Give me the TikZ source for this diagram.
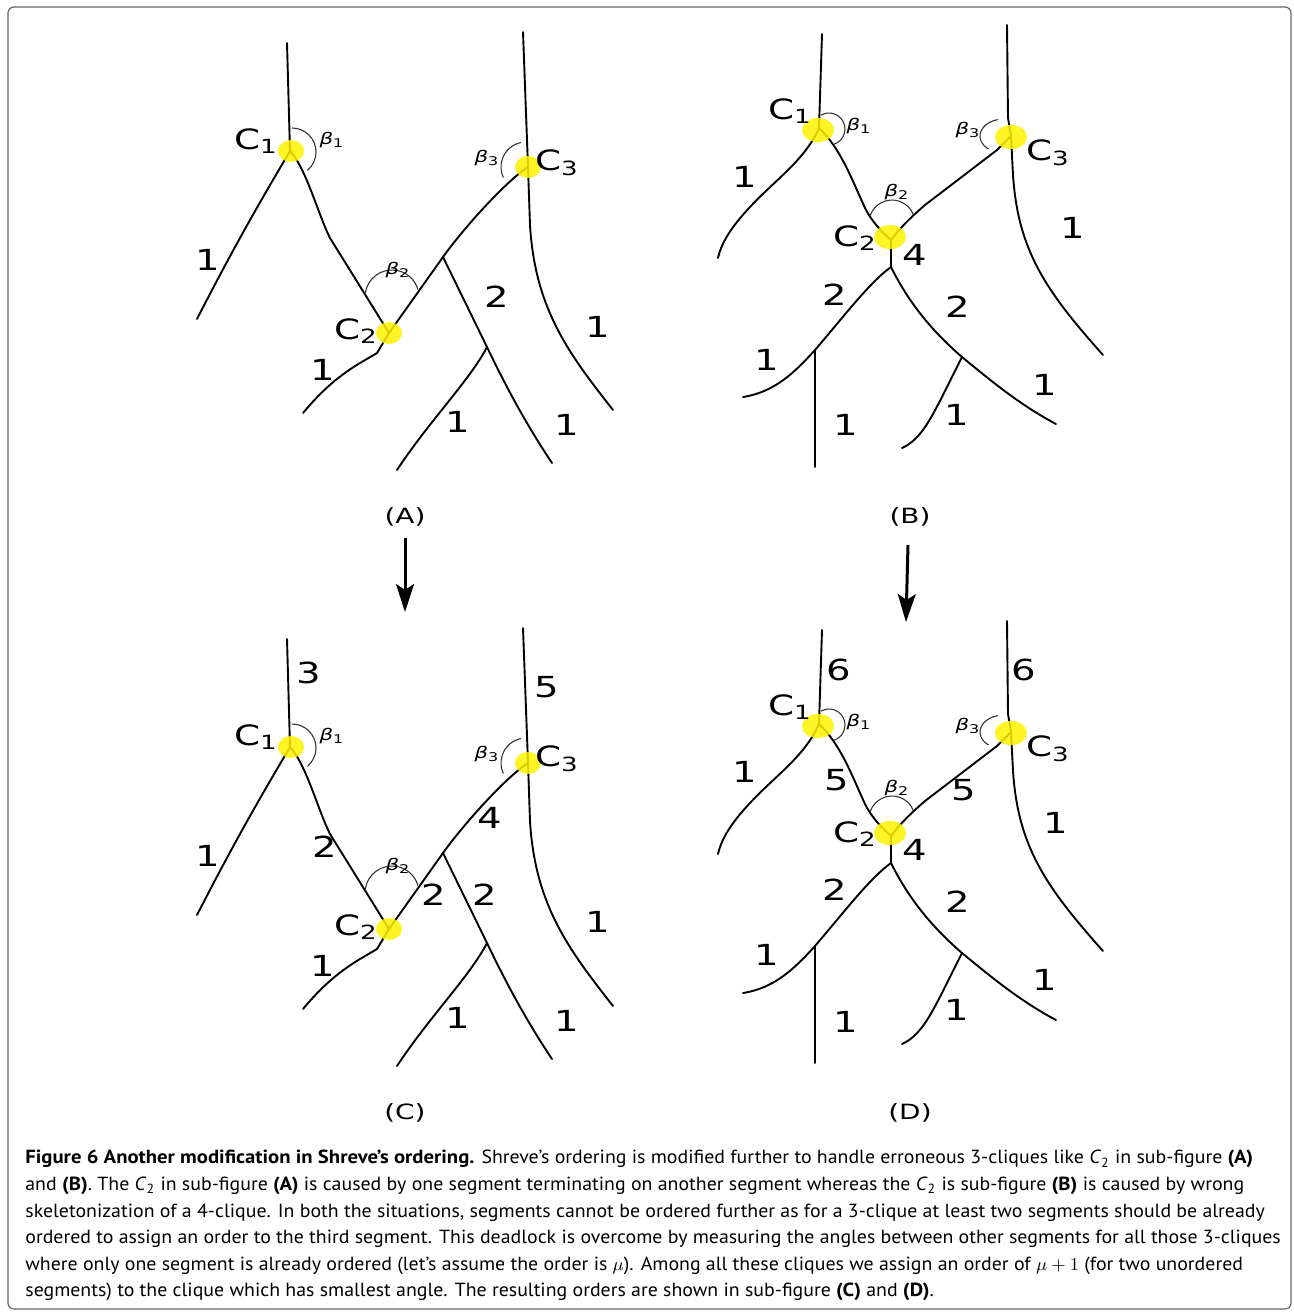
\documentclass[tikz,border=0pt]{standalone}
\usepackage{fontspec}
\setmainfont{DejaVu Sans}[FakeStretch=1.33]
\newfontfamily\capfont{PT Sans}[FakeStretch=1.045, BoldFeatures={FakeStretch=1.09}]
\usepackage{tikz}
\usetikzlibrary{arrows.meta,shapes.geometric}

\tikzset{
    seg/.style = {draw=black, line width=0.95pt, line cap=round},
    angarc/.style = {draw=black!80, line width=0.55pt},
    cliqueA/.style = {ellipse, fill=yellow, fill opacity=0.85, inner sep=0pt, minimum width=13pt, minimum height=11pt},
    cliqueB/.style = {cliqueA, minimum width=16pt, minimum height=12pt},
    order/.style = {font=\fontsize{14.5}{16}\selectfont, inner sep=1pt},
    cname/.style = {font=\fontsize{14}{16}\selectfont, inner sep=1pt},
    beta/.style = {font=\fontsize{8}{9}\selectfont, inner sep=1pt},
    sublabel/.style = {font=\fontsize{10.5}{12}\selectfont},
    down-arrow/.style = {line width=1.5pt, -{Stealth[length=14pt, width=9pt, inset=3pt]}},
    frame/.style = {draw=black!60, line width=0.6pt, rounded corners=3pt},
    caption/.style = {font=\capfont\fontsize{9.5}{13.3}\selectfont, align=left, inner sep=0pt, anchor=north west},
}

\newcommand{\bet}[1]{\textit{β}\textsubscript{#1}}

% skeleton of sub-figures (A) and (C)
\newcommand{\treeA}[1]{%
    \coordinate (#1-c1) at (290,151);
    \coordinate (#1-c2) at (389,333);
    \coordinate (#1-c3) at (528,167);
    \coordinate (#1-j) at (443,257);
    \coordinate (#1-k) at (487,347);
    \draw[seg] (287,43) -- (#1-c1);
    \draw[seg] (#1-c1) .. controls (270,185) and (240,235) .. (197,319);
    \draw[seg] (#1-c1) .. controls (306,168) and (318,214) .. (330,238) -- (#1-c2);
    \draw[seg] (#1-c2) -- (377,353) -- (360,363) .. controls (335,378) and (318,395) .. (303,413);
    \draw[seg] (#1-c2) -- (#1-j) .. controls (463,229) and (505,182) .. (#1-c3);
    \draw[seg] (523,32) -- (#1-c3) -- (530,225) .. controls (535,310) and (570,355) .. (613,410);
    \draw[seg] (#1-j) -- (#1-k) .. controls (510,395) and (530,430) .. (552,463);
    \draw[seg] (#1-k) .. controls (470,380) and (430,420) .. (397,470);
    \draw[angarc] (292,152) ++(-90:24) arc[start angle=-90, end angle=50, radius=24];
    \draw[angarc] (392,297) ++(188:27) arc[start angle=188, end angle=344, radius=27];
    \draw[angarc] (526,167) ++(258:25) arc[start angle=258, end angle=155, radius=25];
    \node[cliqueA] (#1-e1) at (291,151) {};
    \node[cliqueA] (#1-e2) at (389,333) {};
    \node[cliqueA] (#1-e3) at (528,167) {};
    \node[cname] (#1-n1) at (256,141) {C\textsubscript{1}};
    \node[cname] (#1-n2) at (356,331) {C\textsubscript{2}};
    \node[cname] (#1-n3) at (557,163) {C\textsubscript{3}};
    \node[beta] (#1-b1) at (332,140) {\bet{1}};
    \node[beta] (#1-b2) at (398,270) {\bet{2}};
    \node[beta] (#1-b3) at (487,158) {\bet{3}};
}

% skeleton of sub-figures (B) and (D)
\newcommand{\treeB}[1]{%
    \coordinate (#1-c1) at (819,128);
    \coordinate (#1-c2) at (891,240);
    \coordinate (#1-c3) at (1011,136);
    \coordinate (#1-j) at (891,267);
    \coordinate (#1-k) at (815,350);
    \coordinate (#1-m) at (962,357);
    \draw[seg] (822,34) -- (#1-c1);
    \draw[seg] (#1-c1) .. controls (805,160) and (775,180) .. (750,207) .. controls (735,223) and (722,240) .. (718,258);
    \draw[seg] (#1-c1) .. controls (840,148) and (850,175) .. (865,208) .. controls (872,222) and (882,232) .. (#1-c2);
    \draw[seg] (#1-c2) .. controls (900,228) and (910,218) .. (925,205) -- (997,150) -- (#1-c3);
    \draw[seg] (1007,25) -- (1008,118) -- (#1-c3) -- (1013,175) .. controls (1018,250) and (1045,290) .. (1103,355);
    \draw[seg] (#1-c2) -- (#1-j);
    \draw[seg] (#1-j) .. controls (870,282) and (845,315) .. (#1-k) .. controls (795,372) and (775,392) .. (743,397);
    \draw[seg] (#1-k) -- (815,467);
    \draw[seg] (#1-j) .. controls (905,295) and (925,325) .. (#1-m) .. controls (990,380) and (1020,405) .. (1056,424);
    \draw[seg] (#1-m) -- (942,397) .. controls (930,420) and (920,440) .. (902,448);
    \draw[angarc] (829,129) ++(-120:16) arc[start angle=-120, end angle=73, radius=16];
    \draw[angarc] (892,223) ++(199:23) arc[start angle=199, end angle=339, radius=23];
    \draw[angarc] (1004,136) ++(255:24 and 17) arc[start angle=255, end angle=130, x radius=24, y radius=17];
    \node[cliqueB] (#1-e1) at (818,130) {};
    \node[cliqueB] (#1-e2) at (890,237) {};
    \node[cliqueB] (#1-e3) at (1011,137) {};
    \node[cname] (#1-n1) at (790,111) {C\textsubscript{1}};
    \node[cname] (#1-n2) at (855,238) {C\textsubscript{2}};
    \node[cname] (#1-n3) at (1048,153) {C\textsubscript{3}};
    \node[beta] (#1-b1) at (859,126) {\bet{1}};
    \node[beta] (#1-b2) at (897,192) {\bet{2}};
    \node[beta] (#1-b3) at (968,130) {\bet{3}};
}

\begin{document}
\begin{tikzpicture}[x=0.5pt, y=-0.5pt]
\useasboundingbox (0,0) rectangle (1294,1313);
\draw[frame] (8,7) rectangle (1291,1309);

% (A)
\treeA{a}
\node[order] (a-o1) at (208,260) {1};
\node[order] (a-o2) at (497,297) {2};
\node[order] (a-o3) at (598,327) {1};
\node[order] (a-o4) at (323,370) {1};
\node[order] (a-o5) at (458,422) {1};
\node[order] (a-o6) at (567,425) {1};

% (B)
\treeB{b}
\node[order] (b-o1) at (745,177) {1};
\node[order] (b-o2) at (915,255) {4};
\node[order] (b-o3) at (1073,228) {1};
\node[order] (b-o4) at (835,295) {2};
\node[order] (b-o5) at (958,307) {2};
\node[order] (b-o6) at (767,360) {1};
\node[order] (b-o7) at (1045,385) {1};
\node[order] (b-o8) at (846,425) {1};
\node[order] (b-o9) at (957,415) {1};

% (C)
\begin{scope}[shift={(0,596)}]
\treeA{c}
\end{scope}
\node[order] (c-o1) at (309,673) {3};
\node[order] (c-o2) at (547,687) {5};
\node[order] (c-o3) at (208,856) {1};
\node[order] (c-o4) at (325,847) {2};
\node[order] (c-o5) at (490,818) {4};
\node[order] (c-o6) at (434,895) {2};
\node[order] (c-o7) at (485,895) {2};
\node[order] (c-o8) at (598,922) {1};
\node[order] (c-o9) at (323,966) {1};
\node[order] (c-o10) at (458,1018) {1};
\node[order] (c-o11) at (567,1021) {1};

% (D)
\begin{scope}[shift={(0,596)}]
\treeB{d}
\end{scope}
\node[order] (d-o1) at (839,670) {6};
\node[order] (d-o2) at (1024,670) {6};
\node[order] (d-o3) at (745,772) {1};
\node[order] (d-o4) at (837,780) {5};
\node[order] (d-o5) at (964,790) {5};
\node[order] (d-o6) at (915,850) {4};
\node[order] (d-o7) at (1056,823) {1};
\node[order] (d-o8) at (835,890) {2};
\node[order] (d-o9) at (958,902) {2};
\node[order] (d-o10) at (767,955) {1};
\node[order] (d-o11) at (1045,980) {1};
\node[order] (d-o12) at (846,1022) {1};
\node[order] (d-o13) at (957,1010) {1};

% sub-figure names and arrows
\node[sublabel] (lblA) at (405,517) {(A)};
\node[sublabel] (lblB) at (910,517) {(B)};
\node[sublabel] (lblC) at (405,1113) {(C)};
\node[sublabel] (lblD) at (910,1113) {(D)};
\coordinate (arrA-s) at (405,538);
\coordinate (arrA-e) at (405,612);
\coordinate (arrB-s) at (908,545);
\coordinate (arrB-e) at (906,622);
\draw[down-arrow] (arrA-s) -- (arrA-e);
\draw[down-arrow] (arrB-s) -- (arrB-e);

% caption
\node[caption] (cap) at (25,1150) {{\bfseries Figure 6 Another modification in Shreve’s ordering.} Shreve’s ordering is modified further to handle erroneous 3-cliques like \textit{C}\textsubscript{2} in sub-figure \textbf{(A)}\\
and \textbf{(B)}. The \textit{C}\textsubscript{2} in sub-figure \textbf{(A)} is caused by one segment terminating on another segment whereas the \textit{C}\textsubscript{2} is sub-figure \textbf{(B)} is caused by wrong\\
skeletonization of a 4-clique. In both the situations, segments cannot be ordered further as for a 3-clique at least two segments should be already\\
ordered to assign an order to the third segment. This deadlock is overcome by measuring the angles between other segments for all those 3-cliques\\
where only one segment is already ordered (let’s assume the order is $\mu$). Among all these cliques we assign an order of $\mu + 1$ (for two unordered\\
segments) to the clique which has smallest angle. The resulting orders are shown in sub-figure \textbf{(C)} and \textbf{(D)}.};
\end{tikzpicture}
\end{document}
